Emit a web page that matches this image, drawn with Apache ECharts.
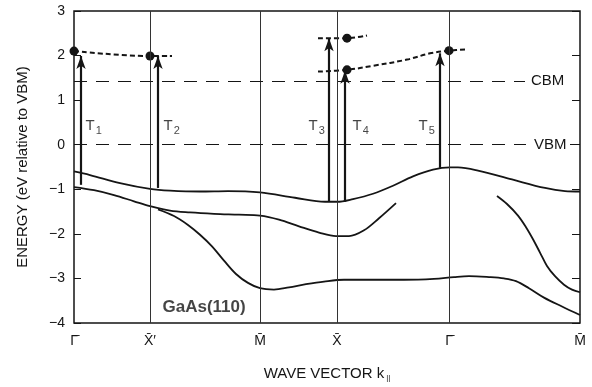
<!DOCTYPE html>
<html>
<head>
<meta charset="utf-8">
<script src="https://cdn.jsdelivr.net/npm/echarts@6/dist/echarts.min.js"></script>
<style>
  html, body { margin: 0; padding: 0; background: #fff; }
  #chart { width: 592px; height: 387px; }
</style>
</head>
<body>
<div id="chart"></div>
<script>
// symmetry points along k (relative distances)
const kTicks = [0, 76, 186, 263, 375, 506]
const kNames = ['Γ\u0304', 'X\u0304′', 'M\u0304', 'X\u0304', 'Γ\u0304', 'M\u0304']

// bulk bands (solid) as [k, E]
const bandA = [[0, -0.60], [16, -0.68], [46, -0.86], [76, -0.99], [96, -1.03], [126, -1.05], [154, -1.04], [186, -1.07], [221, -1.19], [251, -1.28], [263, -1.28], [279, -1.22], [299, -1.10], [319, -0.92], [339, -0.71], [359, -0.56], [376, -0.51], [384, -0.51], [404, -0.58], [438, -0.78], [471, -0.97], [491, -1.04], [506, -1.05]]
const bandB = [[0, -0.95], [20, -1.02], [40, -1.13], [60, -1.27], [76, -1.38], [96, -1.48], [116, -1.52], [140, -1.55], [165, -1.57], [186, -1.59], [205, -1.68], [225, -1.83], [245, -1.97], [262, -2.05], [275, -2.05], [290, -1.92], [305, -1.65], [322, -1.31]]
const bandC = [[84, -1.45], [100, -1.60], [114, -1.80], [126, -2.02], [138, -2.28], [150, -2.60], [162, -2.90], [174, -3.10], [186, -3.22], [200, -3.25], [215, -3.20], [232, -3.13], [250, -3.07], [270, -3.03], [300, -3.03], [330, -3.03], [360, -3.01], [380, -2.97], [395, -2.95], [415, -2.97], [430, -3.00], [442, -3.06], [455, -3.22], [470, -3.43], [488, -3.63], [506, -3.82]]
const bandD = [[423, -1.15], [433, -1.33], [444, -1.59], [452, -1.85], [459, -2.12], [466, -2.42], [473, -2.72], [481, -2.95], [490, -3.14], [498, -3.25], [506, -3.31]]

// surface states (dashed)
const surf1 = [[0, 2.10], [76, 1.99], [98, 1.99]]
const surf2 = [[244, 2.39], [273, 2.39], [293, 2.45]]
const surf3 = [[244, 1.64], [273, 1.68], [299, 1.77], [333, 1.91], [356, 2.05], [375, 2.11], [393, 2.14]]
const dots = [[0, 2.10], [76, 1.99], [273, 2.39], [273, 1.68], [375, 2.11]]

// transitions: [k, Efrom, Eto]
const transitions = [[7, -0.90, 1.99], [84, -0.97, 1.99], [255, -1.28, 2.39], [271, -1.28, 1.66], [366, -0.52, 2.05]]
// labels: [k, E, index]
const tLabels = [[11, 0.43, '1'], [89, 0.43, '2'], [234, 0.43, '3'], [278, 0.43, '4'], [344, 0.43, '5']]

const CBM = 1.43
const VBM = 0

const font = "'Liberation Sans', Arial, sans-serif"
const ink = '#151515'

const chart = echarts.init(document.getElementById('chart'))

const solid = (data) => ({
  type: 'line', data, smooth: 0.35, showSymbol: false, silent: true,
  lineStyle: { color: ink, width: 1.8 }
})
const dashed = (data) => ({
  type: 'line', data, smooth: 0.35, showSymbol: false, silent: true,
  lineStyle: { color: ink, width: 2, type: [5, 3] }
})

const option = {
  animation: false,
  backgroundColor: '#fff',
  textStyle: { fontFamily: font, color: ink },
  grid: { left: 74, right: 12, top: 11, bottom: 60, show: true, borderColor: ink, borderWidth: 1.5 },
  xAxis: {
    type: 'value', min: 0, max: 506,
    name: 'WAVE VECTOR k{s|||}',
    nameLocation: 'middle', nameGap: 42,
    nameTextStyle: {
      fontSize: 15, color: ink, fontFamily: font,
      rich: { s: { fontSize: 8, padding: [9, 0, 0, 2], color: ink, fontFamily: font } }
    },
    axisLine: { show: false },
    axisTick: { show: false },
    splitLine: { show: false },
    axisLabel: {
      customValues: kTicks,
      margin: 11, fontSize: 14, color: ink, fontFamily: font,
      formatter: (v) => kNames[kTicks.indexOf(v)] || ''
    }
  },
  yAxis: [
    {
      type: 'value', min: -4, max: 3, interval: 1,
      name: 'ENERGY (eV relative to VBM)',
      nameLocation: 'middle', nameGap: 44,
      nameTextStyle: { fontSize: 15, color: ink, fontFamily: font },
      axisLine: { show: false },
      axisTick: { show: true, inside: true, length: 7, lineStyle: { color: ink, width: 1 } },
      splitLine: { show: false },
      axisLabel: {
        margin: 9, fontSize: 14, color: ink, fontFamily: font,
        formatter: (v) => (v < 0 ? '−' + (-v) : String(v))
      }
    },
    {
      type: 'value', min: -4, max: 3, interval: 1, position: 'right',
      axisLine: { show: false },
      axisTick: { show: true, inside: true, length: 8, lineStyle: { color: ink, width: 1 } },
      splitLine: { show: false },
      axisLabel: { show: false }
    }
  ],
  series: [
    // guides: symmetry lines, CBM / VBM
    {
      type: 'line', data: [], silent: true,
      markLine: {
        silent: true, symbol: 'none', animation: false,
        lineStyle: { color: '#333', width: 1, type: 'solid' },
        label: { show: false },
        data: kTicks.slice(1, 5).map((k) => ({ xAxis: k })).concat([
          [{ coord: [0, CBM], lineStyle: { type: [13, 9], color: ink }, label: { show: true, position: 'end', formatter: 'CBM', fontSize: 15, color: ink, fontFamily: font, distance: 6 } }, { coord: [451, CBM] }],
          [{ coord: [0, VBM], lineStyle: { type: [13, 9], color: ink }, label: { show: true, position: 'end', formatter: 'VBM', fontSize: 15, color: ink, fontFamily: font, distance: 8 } }, { coord: [452, VBM] }],
          [{ coord: [496, VBM], lineStyle: { type: 'solid', color: ink } }, { coord: [506, VBM] }]
        ])
      }
    },
    solid(bandA), solid(bandB), solid(bandC), solid(bandD),
    dashed(surf1), dashed(surf2), dashed(surf3),
    {
      type: 'scatter', data: dots, symbolSize: 9, silent: true,
      itemStyle: { color: ink, opacity: 1 }
    },
    // transition arrows
    {
      type: 'line', data: [], silent: true,
      markLine: {
        silent: true, animation: false,
        symbol: ['none', 'arrow'], symbolSize: [7, 13],
        lineStyle: { color: ink, width: 2.2, type: 'solid' },
        label: { show: false },
        data: transitions.map((t) => [{ coord: [t[0], t[1]] }, { coord: [t[0], t[2]] }])
      }
    },
    // T labels
    {
      type: 'scatter', data: tLabels, symbolSize: 1, silent: true,
      itemStyle: { color: 'rgba(0,0,0,0)' },
      label: {
        show: true, position: 'right', distance: 0,
        formatter: (p) => '{t|T}{s|' + p.value[2] + '}',
        rich: {
          t: { fontSize: 15, lineHeight: 22, color: ink, fontFamily: font },
          s: { fontSize: 11, verticalAlign: 'bottom', color: ink, fontFamily: font, padding: [0, 0, 0, 1] }
        }
      }
    },
    // sample label
    {
      type: 'scatter', data: [[88, -3.65]], symbolSize: 1, silent: true,
      itemStyle: { color: 'rgba(0,0,0,0)' },
      label: {
        show: true, position: 'right', distance: 0,
        formatter: 'GaAs(110)',
        fontSize: 17, fontWeight: 'bold', color: ink, fontFamily: font
      }
    }
  ]
}

chart.setOption(option)
</script>
</body>
</html>
